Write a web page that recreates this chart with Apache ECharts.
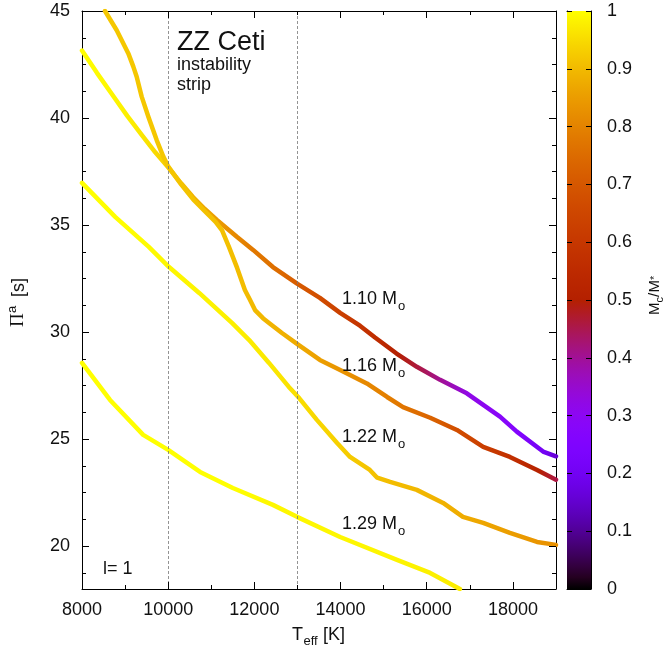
<!DOCTYPE html>
<html><head><meta charset="utf-8">
<script src="https://cdn.jsdelivr.net/npm/echarts@6/dist/echarts.min.js"></script>
<style>html,body{margin:0;padding:0;background:#fff}#c{width:663px;height:653px}</style>
</head><body><div id="c"></div>
<script>
// ---- data ----
const teff110 = [8000, 8350, 8700, 9050, 9390, 9700, 10020, 10300, 10580, 10850, 11130, 11600, 11970, 12430, 13000, 13520, 13990, 14450, 14800, 15300, 15770, 16310, 16930, 17700, 18090, 18700, 19000];
const period110 = [43.15, 42.1, 41.1, 40.1, 39.2, 38.4, 37.65, 36.95, 36.3, 35.75, 35.24, 34.44, 33.84, 33.04, 32.25, 31.6, 30.9, 30.3, 29.75, 29.0, 28.38, 27.77, 27.14, 26.05, 25.35, 24.42, 24.2];
const mc110 = [1.0, 0.995, 0.99, 0.98, 0.97, 0.95, 0.93, 0.91, 0.89, 0.87, 0.85, 0.81, 0.78, 0.76, 0.71, 0.67, 0.63, 0.59, 0.56, 0.5, 0.46, 0.4, 0.32, 0.28, 0.26, 0.2, 0.15];

const teff116 = [8534, 8805, 9075, 9191, 9269, 9385, 9540, 9733, 9887, 10003, 10300, 10580, 10850, 11100, 11250, 11410, 11600, 11780, 11900, 12015, 12200, 12340, 12640, 12990, 13520, 13990, 14610, 15080, 15450, 16080, 16700, 17310, 17930, 18560, 19000];
const period116 = [45.0, 44.1, 43.02, 42.4, 41.93, 41.0, 40.06, 38.97, 38.2, 37.73, 36.9, 36.2, 35.65, 35.15, 34.75, 33.98, 33.0, 31.97, 31.5, 31.03, 30.65, 30.43, 29.96, 29.45, 28.7, 28.23, 27.6, 26.97, 26.5, 26.0, 25.43, 24.64, 24.17, 23.56, 23.1];
const mc116 = [0.92, 0.92, 0.92, 0.92, 0.92, 0.92, 0.92, 0.92, 0.92, 0.92, 0.915, 0.915, 0.91, 0.91, 0.91, 0.91, 0.905, 0.905, 0.9, 0.9, 0.895, 0.89, 0.885, 0.875, 0.855, 0.835, 0.81, 0.79, 0.77, 0.73, 0.67, 0.62, 0.57, 0.51, 0.45];

const teff122 = [8000, 8770, 9550, 10020, 10720, 11480, 11880, 12340, 12800, 13040, 13450, 13920, 14220, 14680, 14850, 15150, 15770, 16380, 16840, 17310, 17930, 18560, 19000];
const period122 = [36.97, 35.38, 33.98, 33.04, 31.83, 30.43, 29.63, 28.56, 27.44, 26.92, 25.9, 24.82, 24.17, 23.56, 23.2, 23.0, 22.63, 22.02, 21.37, 21.09, 20.62, 20.2, 20.06];
const mc122 = [1.0, 1.0, 0.995, 0.99, 0.985, 0.98, 0.975, 0.97, 0.96, 0.955, 0.945, 0.935, 0.925, 0.915, 0.91, 0.905, 0.895, 0.885, 0.875, 0.865, 0.85, 0.835, 0.825];

const teff129 = [8000, 8650, 9420, 10000, 10740, 11500, 12430, 12990, 13990, 15310, 16080, 16770];
const period129 = [28.56, 26.83, 25.2, 24.5, 23.47, 22.72, 21.93, 21.37, 20.43, 19.36, 18.75, 18.0];
const mc129 = [1, 1, 1, 1, 1, 1, 0.99, 0.99, 0.99, 0.985, 0.98, 0.975];

const massLabels = ['1.10', '1.16', '1.22', '1.29'];
const stripEdges = [10000, 13000];
const xMajor = [8000, 10000, 12000, 14000, 16000, 18000];
const xMinor = [9000, 11000, 13000, 15000, 17000];
const yMajor = [20, 25, 30, 35, 40, 45];
const cbTicks = [0, 0.1, 0.2, 0.3, 0.4, 0.5, 0.6, 0.7, 0.8, 0.9, 1];

// ---- helpers ----
const FONT = 'Liberation Sans, Arial, Helvetica, sans-serif';
const X0 = 8000, X1 = 19000, Y0 = 18, Y1 = 45;
const PLOT_W = 474, PLOT_H = 578, CB_W = 24;
const yMinor = [];
for (let v = 18.75; v < 45; v += 1.25) { if (Math.abs(v / 5 - Math.round(v / 5)) > 1e-6) yMinor.push(v); }

function palette(x) { // gnuplot rgbformulae 7,5,15
  const r = Math.sqrt(x), g = x * x * x, b = Math.max(0, Math.sin(2 * Math.PI * x));
  const c = v => Math.round(Math.min(1, Math.max(0, v)) * 255);
  return 'rgb(' + c(r) + ',' + c(g) + ',' + c(b) + ')';
}
function gradientFor(teff, mc) {
  const t0 = teff[0], t1 = teff[teff.length - 1];
  return new echarts.graphic.LinearGradient(0, 0, 1, 0,
    teff.map((t, i) => ({ offset: (t - t0) / (t1 - t0), color: palette(mc[i]) })));
}
function curve(teff, period, mc) {
  return {
    type: 'line', xAxisIndex: 0, yAxisIndex: 0, silent: true, symbol: 'none', showSymbol: false,
    data: teff.map((t, i) => [t, period[i]]),
    lineStyle: { width: 4.5, color: gradientFor(teff, mc), cap: 'round', join: 'round' }, z: 3
  };
}
const cbStops = [];
for (let i = 0; i <= 50; i++) cbStops.push({ offset: i / 50, color: palette(1 - i / 50) });

// tick marks as markLine segments (pixel length converted to axis units)
function tickSegs(xs, ys, xmin, xmax, ymin, ymax, wPx, hPx, lenPx) {
  const dx = lenPx * (xmax - xmin) / wPx, dy = lenPx * (ymax - ymin) / hPx;
  const out = [];
  xs.forEach(v => {
    out.push([{ coord: [v, ymin] }, { coord: [v, ymin + dy] }]);
    out.push([{ coord: [v, ymax] }, { coord: [v, ymax - dy] }]);
  });
  ys.forEach(v => {
    out.push([{ coord: [xmin, v] }, { coord: [xmin + dx, v] }]);
    out.push([{ coord: [xmax, v] }, { coord: [xmax - dx, v] }]);
  });
  return out;
}
const mainTickSegs = tickSegs(xMajor, yMajor, X0, X1, Y0, Y1, PLOT_W, PLOT_H, 7)
  .concat(tickSegs(xMinor, yMinor, X0, X1, Y0, Y1, PLOT_W, PLOT_H, 4));
const cbTickSegs = tickSegs([], cbTicks, 0, 1, 0, 1, CB_W, PLOT_H, 5);
function tickSeries(xi, yi, segs) {
  return { type: 'line', xAxisIndex: xi, yAxisIndex: yi, data: [], silent: true, z: 10,
    markLine: { symbol: 'none', silent: true, animation: false, label: { show: false },
      lineStyle: { type: 'solid', color: '#000', width: 1 }, emphasis: { disabled: true }, data: segs } };
}

const lineStyle = { lineStyle: { color: '#000', width: 1 } };
function ax(grid, pos, min, max, label) {
  return {
    type: 'value', gridIndex: grid, position: pos, min: min, max: max,
    axisLine: { show: true, onZero: false, ...lineStyle },
    axisTick: { show: false }, splitLine: { show: false },
    axisLabel: label || { show: false }
  };
}
const xLabel = { show: true, customValues: xMajor, fontSize: 18, color: '#111', fontFamily: FONT, margin: 12, formatter: v => String(v) };
const yLabel = { show: true, customValues: yMajor, fontSize: 18, color: '#111', fontFamily: FONT, margin: 12, formatter: v => String(v) };
const cbLabel = { show: true, customValues: cbTicks, fontSize: 18, color: '#111', fontFamily: FONT, margin: 16,
  formatter: v => String(Math.round(v * 10) / 10) };

function txt(x, y, s, size, extra) {
  return { type: 'text', x: x, y: y, silent: true, z: 20,
    style: Object.assign({ text: s, fontSize: size, fontFamily: FONT, fill: '#111', align: 'left', verticalAlign: 'middle' }, extra || {}) };
}
const mid = (base, size) => base - 0.3465 * size;

const labelBase = [305, 372, 443, 530];
const graphics = [
  txt(177, mid(52, 27), 'ZZ Ceti', 27),
  txt(177, mid(71, 18), 'instability', 18),
  txt(177, mid(91.5, 18), 'strip', 18),
  txt(103, mid(575, 18), 'l= 1', 18)
];
massLabels.forEach((m, i) => {
  graphics.push(txt(342, mid(labelBase[i], 18), m + ' M', 18));
  graphics.push(txt(398, mid(labelBase[i] + 6, 13), 'o', 13));
});
graphics.push(txt(292, mid(641, 18), 'T', 18));
graphics.push(txt(303.5, mid(646, 13), 'eff', 13));
graphics.push(txt(323, mid(641, 18), '[K]', 18));
graphics.push({ type: 'group', x: 25, y: 327, rotation: Math.PI / 2, silent: true, children: [
  txt(0, mid(0, 19), 'Π', 19, { fontFamily: 'Liberation Serif, serif' }),
  txt(14, mid(-8, 13), 'a', 13),
  txt(30, mid(0, 18), '[s]', 18)
]});
graphics.push({ type: 'group', x: 660, y: 315, rotation: Math.PI / 2, silent: true, children: [
  txt(0, mid(0, 15), 'M', 15),
  txt(12.5, mid(3.5, 11), 'c', 11),
  txt(18, mid(0, 15), '/', 15),
  txt(22.5, mid(0, 15), 'M', 15),
  txt(35, mid(-1, 11), '*', 11)
]});

const chart = echarts.init(document.getElementById('c'), null, { renderer: 'canvas' });
chart.setOption({
  animation: false,
  backgroundColor: '#fff',
  grid: [
    { left: 82, right: 107, top: 11, bottom: 64, containLabel: false },
    { left: 567, width: CB_W, top: 11, height: PLOT_H, containLabel: false }
  ],
  xAxis: [
    ax(0, 'bottom', X0, X1, xLabel), ax(0, 'top', X0, X1),
    ax(1, 'bottom', 0, 1), ax(1, 'top', 0, 1)
  ],
  yAxis: [
    ax(0, 'left', Y0, Y1, yLabel), ax(0, 'right', Y0, Y1),
    ax(1, 'left', 0, 1), ax(1, 'right', 0, 1, cbLabel)
  ],
  graphic: graphics,
  series: [
    { type: 'line', xAxisIndex: 0, yAxisIndex: 0, data: [], silent: true, z: 1,
      markLine: { symbol: 'none', silent: true, label: { show: false },
        lineStyle: { type: [3, 2], color: '#777', width: 0.8 },
        data: stripEdges.map(v => ({ xAxis: v })) } },
    curve(teff129, period129, mc129),
    curve(teff122, period122, mc122),
    curve(teff110, period110, mc110),
    curve(teff116, period116, mc116),
    { type: 'custom', xAxisIndex: 2, yAxisIndex: 2, silent: true, data: [[0, 0]], z: 1,
      renderItem: (params, api) => {
        const p0 = api.coord([0, 1]), p1 = api.coord([1, 0]);
        return { type: 'rect', shape: { x: p0[0], y: p0[1], width: p1[0] - p0[0], height: p1[1] - p0[1] },
          style: { fill: new echarts.graphic.LinearGradient(0, 0, 0, 1, cbStops) } };
      } },
    tickSeries(0, 0, mainTickSegs),
    tickSeries(2, 2, cbTickSegs)
  ]
});
</script>
</body></html>
